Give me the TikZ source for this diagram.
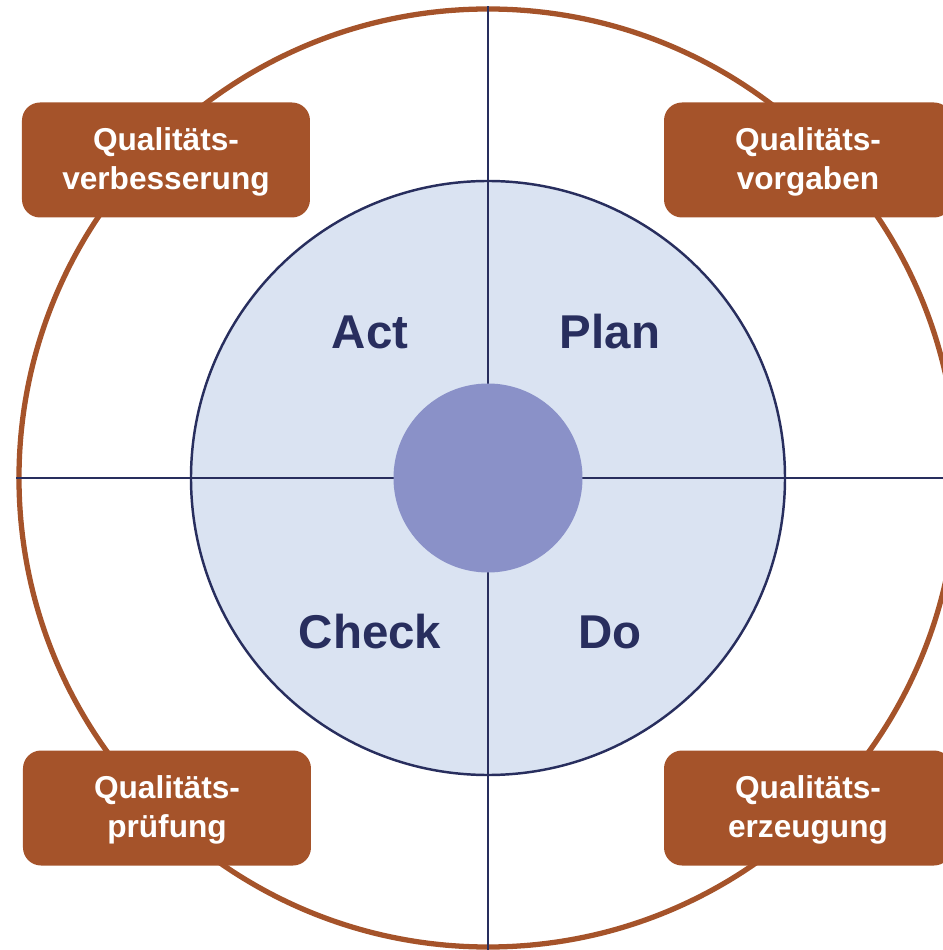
\documentclass[tikz,border=0pt]{standalone}
\usepackage{fontspec}
\setmainfont{Liberation Sans}
\definecolor{rust}{HTML}{A5532A}
\definecolor{navy}{HTML}{282E5E}
\definecolor{paleblue}{HTML}{DAE3F2}
\definecolor{lilac}{HTML}{8A91C8}
\begin{document}
\begin{tikzpicture}[
        qbox/.style={fill=rust,rounded corners=0.36cm,minimum width=5.76cm,minimum height=2.3cm,
            text=white,align=center,font=\fontsize{18}{22}\selectfont\bfseries},
        phase/.style={text=navy,font=\fontsize{27}{32}\selectfont\bfseries}]
                \useasboundingbox (-9.76,-9.44) rectangle (9.08,9.56);
                \node[circle,draw=rust,line width=3pt,minimum size=18.76cm,inner sep=0](outer) at(0,0){};
                \node[circle,draw=navy,fill=paleblue,line width=1.4pt,minimum size=11.88cm,inner sep=0](inner) at(0,0){};
                \draw[navy,line width=1.2pt](outer.north)--(outer.south);
                \draw[navy,line width=1.2pt](outer.west)--(outer.east);
                \node[circle,fill=lilac,minimum size=3.78cm,inner sep=0](hub) at(0,0){};
                \node[phase](act) at(-2.36,2.92){Act};
                \node[phase](plan) at(2.44,2.92){Plan};
                \node[phase](check) at(-2.36,-3.08){Check};
                \node[phase](do) at(2.44,-3.08){Do};
                \node[qbox](improve) at(-6.44,6.36){\strut Qualitäts-\\verbesserung};
                \node[qbox](specs) at(6.40,6.36){\strut Qualitäts-\\vorgaben};
                \node[qbox](test) at(-6.42,-6.60){\strut Qualitäts-\\prüfung};
                \node[qbox](make) at(6.40,-6.60){\strut Qualitäts-\\erzeugung};
            \end{tikzpicture}
\end{document}
